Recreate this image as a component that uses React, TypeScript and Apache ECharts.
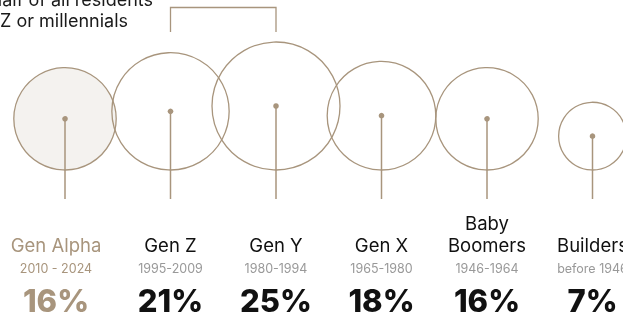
import React, { useEffect, useRef } from "react";
import * as echarts from "echarts";

const generations = ["Gen Alpha", "Gen Z", "Gen Y", "Gen X", "Baby\nBoomers", "Builders"];
const birthYears = ["2010 - 2024", "1995-2009", "1980-1994", "1965-1980", "1946-1964", "before 1946"];
const shares = [16, 21, 25, 18, 16, 7];
const highlightIndex = 0;
const bracketPair = [1, 2];
const noteLines = ["Almost half of all residents", "are Gen Z or millennials"];

const TAN = "#a8957d";
const FONT = "Inter";
const MAX_SHARE = Math.max(...shares);
const MAX_R = 64;
const WIDTH = 623;
const FIRST_X = 65;
const STEP = 105.5;
const HIGHLIGHT_LABEL_SHIFT = -9;

export default function App() {
  const ref = useRef<HTMLDivElement>(null);
  useEffect(() => {
    if (!ref.current) return;
    const chart = echarts.init(ref.current, null, { renderer: "svg" });
    const data = shares.map((v, i) => [i, v]);
    chart.setOption({
      animation: false,
      grid: { left: 0, right: 0, top: 0, bottom: 147 },
      xAxis: { type: "value", min: -FIRST_X / STEP, max: (WIDTH - FIRST_X) / STEP, show: false },
      yAxis: { type: "value", min: 0, max: 1, show: false },
      graphic: [
        {
          type: "text",
          style: { x: 153, y: -1, text: noteLines[0], align: "right", verticalAlign: "middle", fontFamily: FONT, fontSize: 18, fill: "#1a1a1a" },
        },
        {
          type: "text",
          style: { x: 128, y: 20, text: noteLines[1], align: "right", verticalAlign: "middle", fontFamily: FONT, fontSize: 18, fill: "#1a1a1a" },
        },
      ],
      series: [
        {
          type: "custom",
          data: [bracketPair],
          renderItem: (params: any, api: any) => {
            const x1 = api.coord([api.value(0), 0])[0];
            const x2 = api.coord([api.value(1), 0])[0];
            return {
              type: "polyline",
              shape: { points: [[x1, 32], [x1, 7.5], [x2, 7.5], [x2, 32]] },
              style: { stroke: TAN, lineWidth: 1.3, fill: "none" },
            };
          },
        },
        {
          type: "custom",
          data,
          renderItem: (params: any, api: any) => {
            const i = api.value(0);
            const v = api.value(1);
            const [cx, baseY] = api.coord([i, 0]);
            const r = MAX_R * Math.sqrt(v / MAX_SHARE);
            const cy = baseY - r;
            const hl = i === highlightIndex;
            const lx = cx + (hl ? HIGHLIGHT_LABEL_SHIFT : 0);
            const nameColor = hl ? TAN : "#111111";
            return {
              type: "group",
              children: [
                { type: "circle", shape: { cx, cy, r }, style: { fill: hl ? "#f4f2ef" : "none", stroke: TAN, lineWidth: 1.3 } },
                { type: "line", shape: { x1: cx, y1: cy, x2: cx, y2: baseY + 29 }, style: { stroke: TAN, lineWidth: 1.5 } },
                { type: "circle", shape: { cx, cy, r: 2.8 }, style: { fill: TAN } },
                {
                  type: "text",
                  style: { x: lx, y: baseY + 86, text: generations[i], align: "center", verticalAlign: "bottom", fontFamily: FONT, fontSize: 18.5, lineHeight: 22, fill: nameColor },
                },
                {
                  type: "text",
                  style: { x: lx, y: baseY + 98, text: birthYears[i], align: "center", verticalAlign: "middle", fontFamily: FONT, fontSize: 12.5, fill: hl ? TAN : "#999999" },
                },
                {
                  type: "text",
                  style: { x: lx, y: baseY + 130, text: v + "%", align: "center", verticalAlign: "middle", fontFamily: FONT, fontSize: 31, fontWeight: 800, fill: hl ? TAN : "#111111" },
                },
              ],
            };
          },
        },
      ],
    });
    return () => chart.dispose();
  }, []);
  return <div ref={ref} style={{ position: "fixed", left: 0, top: 0, width: 623, height: 317 }} />;
}
